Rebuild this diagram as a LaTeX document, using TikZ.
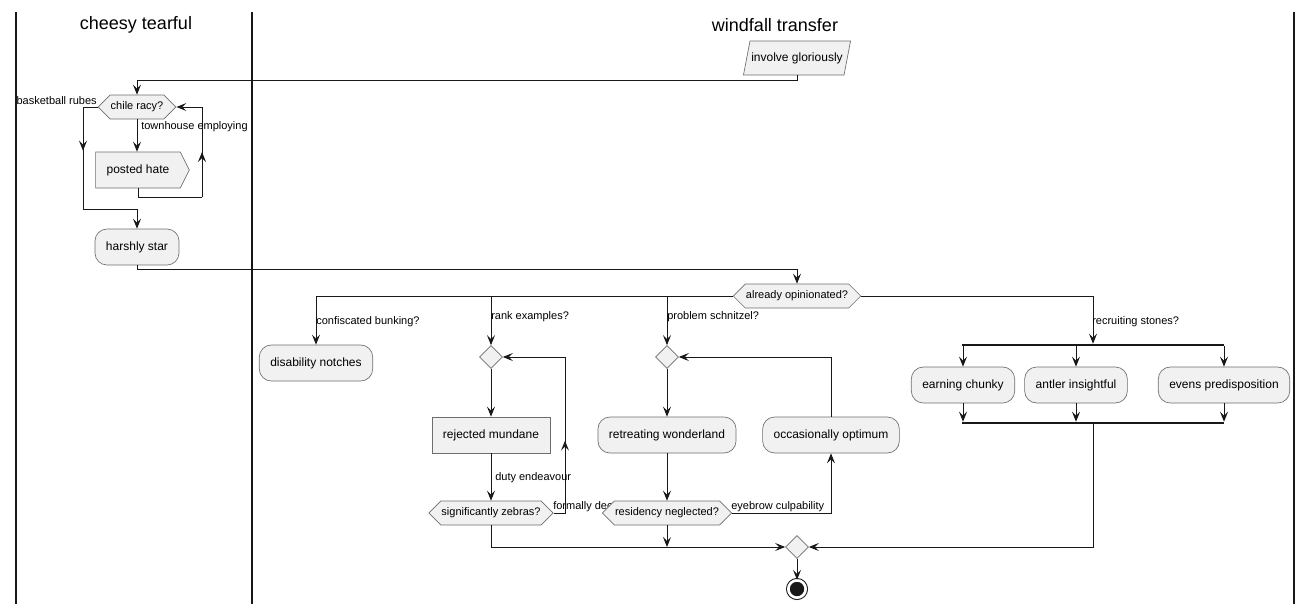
\documentclass[tikz,border=0pt]{standalone}
\usepackage{fontspec}
\setmainfont{Liberation Sans}
\usepackage{tikz}
\usetikzlibrary{arrows.meta}
\usetikzlibrary{shapes.geometric, shapes.symbols}
\usetikzlibrary{decorations.markings}

\definecolor{nodefill}{HTML}{F1F1F1}
\definecolor{nodeline}{HTML}{6E6E6E}
\definecolor{flowline}{HTML}{181818}

\begin{document}
\begin{tikzpicture}
			[
			x=0.75pt, y=-0.75pt,
			font=\fontsize{9}{11}\selectfont,
			flow/.style={draw=flowline,line width=0.75pt,-{Stealth[length=7.5pt,width=6pt,inset=3pt]}},
			plain/.style={draw=flowline,line width=0.75pt},
			mid arrow/.style={postaction={decorate},decoration={markings,
				mark=at position 0.5 with {\arrow{Stealth[length=7.5pt,width=6pt,inset=3pt]}}}}
			]
			\useasboundingbox (0,0) rectangle (1313,612);
			
			% Node styles: actions, tests, merges and bars
			\tikzstyle{action node}=[rectangle,rounded corners=9pt,draw=nodeline,line width=0.5pt,fill=nodefill,minimum height=27pt,inner xsep=8.25pt];
			\tikzstyle{box node}=[rectangle,draw=nodeline,line width=0.5pt,fill=nodefill,minimum height=27pt,inner xsep=8.25pt];
			\tikzstyle{send node}=[signal,signal to=east,signal pointer angle=127,draw=nodeline,line width=0.5pt,fill=nodefill,minimum height=27pt,inner xsep=8.25pt];
			\tikzstyle{input node}=[trapezium,trapezium stretches=true,trapezium left angle=72,trapezium right angle=108,draw=nodeline,line width=0.5pt,fill=nodefill,minimum height=25.5pt,inner xsep=1pt];
			\tikzstyle{test node}=[signal,signal to=west and east,signal pointer angle=90,draw=nodeline,line width=0.5pt,fill=nodefill,minimum height=18pt,inner xsep=0.5pt,font=\fontsize{8.25}{10}\selectfont];
			\tikzstyle{merge node}=[diamond,draw=nodeline,line width=0.5pt,fill=nodefill,minimum width=17.25pt,minimum height=17.25pt,inner sep=0pt];
			\tikzstyle{bar node}=[rectangle,fill=flowline,minimum width=196.5pt,minimum height=1.5pt,inner sep=0pt];
			\tikzstyle{stop node}=[circle,fill=flowline,draw=flowline,line width=0.75pt,double=white,double distance=2pt,minimum size=13pt,inner sep=0pt];
			\tikzstyle{edge label}=[inner sep=0pt,font=\fontsize{8.25}{10}\selectfont];
			\tikzstyle{lane title}=[font=\fontsize{13.5}{16}\selectfont];
			
			% Swimlanes
			\foreach \x in {16, 252, 1294} \draw[flowline,line width=1.5pt](\x,12)--(\x,604);
			\node[lane title](cheesy)at(136,25){cheesy tearful};
			\node[lane title](windfall)at(775,25){windfall transfer};
			
			% Start and first lane
			\node[input node](involve)at(797,58){involve gloriously};
			\node[test node](chile)at(137,107){chile racy?};
			\node[send node](posted)at(138,170){posted hate};
			\node[action node](harshly)at(137,247){harshly star};
			
			% Switch
			\node[test node](opinion)at(797,296){already opinionated?};
			\node[action node](notches)at(316,363){disability notches};
			% rank examples
			\node[merge node](mergeA)at(491,357){};
			\node[box node](rejected)at(491,435){rejected mundane};
			\node[test node](zebras)at(491,513){significantly zebras?};
			\node[edge label,anchor=west](lblFormally)at(553,507){formally dec};
			% problem schnitzel
			\node[merge node](mergeB)at(667,357){};
			\node[action node](retreating)at(667,435){retreating wonderland};
			\node[test node](residency)at(667,513){residency neglected?};
			\node[action node](occasionally)at(831,435){occasionally optimum};
			% recruiting stones
			\node[bar node](forkA)at(1093,345){};
			\node[action node](earning)at(963,385){earning chunky};
			\node[action node](antler)at(1076,385){antler insightful};
			\node[action node](evens)at(1224,385){evens predisposition};
			\node[bar node](joinA)at(1093,423){};
			% End
			\node[merge node](mergeEnd)at(797,547){};
			\node[stop node](stop)at(797,589){};
			
			% Flows, first lane
			\draw[flow](involve.south)--++(0,5)-|(chile.north);
			\draw[flow](chile.south)--(chile.south |- posted.north);
			\coordinate(loopA)at(202,197);
			\draw[plain](posted.south)|-(loopA);
			\draw[plain,mid arrow](loopA)--(loopA |- chile.east);
			\draw[flow](loopA |- chile.east)--(chile.east);
			\coordinate(skipA)at(83,209);
			\draw[plain,mid arrow](chile.west)-|(skipA);
			\draw[flow](skipA)-|(harshly.north);
			\draw[flow](harshly.south)--++(0,4)-|(opinion.north);
			
			% Flows, switch
			\foreach \n in {notches, mergeA, mergeB} \draw[flow](opinion.west)-|(\n.north);
			\draw[flow](opinion.east)-|(forkA.north);
			\draw[flow](mergeA.south)--(rejected.north);
			\draw[flow](rejected.south)--(zebras.north);
			\coordinate(loopB)at(565,357);
			\draw[plain,mid arrow](zebras.east)-|(loopB);
			\draw[flow](loopB)--(mergeA.east);
			\draw[flow](zebras.south)|-(mergeEnd.west);
			\draw[flow](mergeB.south)--(retreating.north);
			\draw[flow](retreating.south)--(residency.north);
			\draw[flow](residency.east)-|(occasionally.south);
			\draw[flow](occasionally.north)|-(mergeB.east);
			\draw[flow](residency.south)--(residency.south |- mergeEnd.west);
			\foreach \n in {earning, antler, evens}{
				\draw[flow](forkA.south -| \n.north)--(\n.north);
				\draw[flow](\n.south)--(\n.south |- joinA.north);
			}
			\draw[flow](joinA.south)|-(mergeEnd.east);
			\draw[flow](mergeEnd.south)--(stop.north);
			
			% Labels on flows
			\node[edge label,anchor=east](lblBasket)at(97,101){basketball rubes};
			\node[edge label,anchor=west](lblTownhouse)at(141,127){townhouse employing};
			\node[edge label,anchor=west](lblConfiscated)at(316,322){confiscated bunking?};
			\node[edge label,anchor=west](lblRank)at(491,317){rank examples?};
			\node[edge label,anchor=west](lblProblem)at(667,317){problem schnitzel?};
			\node[edge label,anchor=west](lblRecruiting)at(1092,322){recruiting stones?};
			\node[edge label,anchor=west](lblDuty)at(495,478){duty endeavour};
			\node[edge label,anchor=west](lblEyebrow)at(731,507){eyebrow culpability};
\end{tikzpicture}
\end{document}
